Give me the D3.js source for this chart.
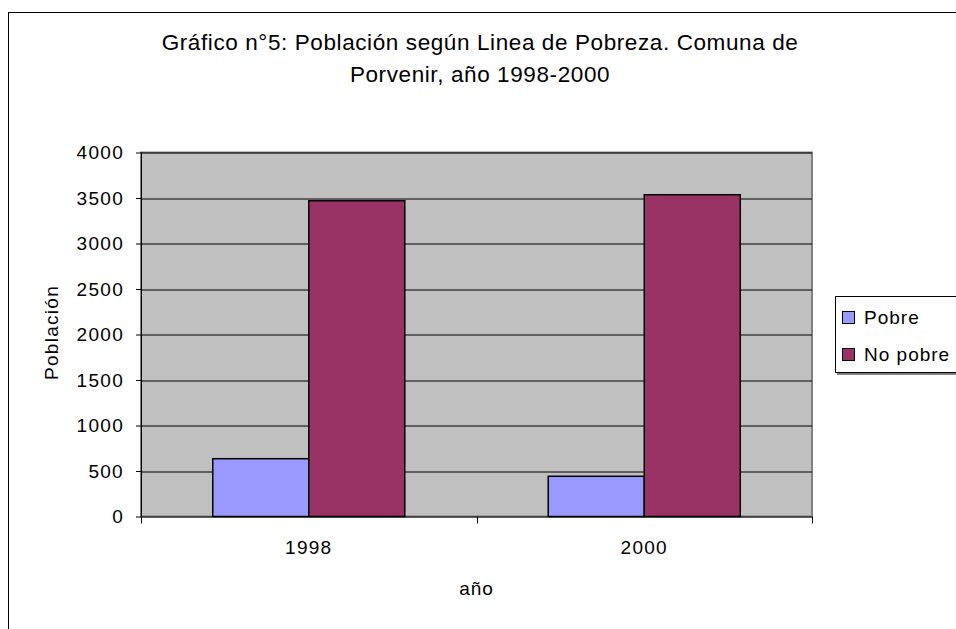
<!DOCTYPE html>
<html>
<head>
<meta charset="utf-8">
<script src="https://cdn.jsdelivr.net/npm/d3@7"></script>
<style>
	body { margin: 0; background: white; }
	text { font-family: "Liberation Sans", Arial, sans-serif; fill: black; }
</style>
</head>
<body>
<div id="chart"></div>
<script>
var years = ['1998', '2000'];
var series = ['Pobre', 'No pobre'];
var pobre = [635, 442];
var no_pobre = [3470, 3536];
var y_ticks = [0, 500, 1000, 1500, 2000, 2500, 3000, 3500, 4000];
var colors = ['#9999ff', '#993366'];

var margin = {top: 152.5, left: 141, right: 144, bottom: 112.5};
var width = 956 - margin.left - margin.right;
var height = 629 - margin.top - margin.bottom;

var svg = d3.select('#chart')
	.append('svg')
	.attr('width', 956)
	.attr('height', 629);

// outer frame
svg.append('rect')
	.attr('x', 8.5)
	.attr('y', 12.5)
	.attr('width', 980)
	.attr('height', 640)
	.style('fill', 'white')
	.style('stroke', 'black')
	.style('stroke-width', 1);

// title
svg.append('text')
	.attr('text-anchor', 'middle')
	.attr('x', 480)
	.attr('y', 50)
	.style('font-size', '22.5px')
	.style('letter-spacing', '0.6px')
	.text('Gráfico n°5: Población según Linea de Pobreza. Comuna de');
svg.append('text')
	.attr('text-anchor', 'middle')
	.attr('x', 480)
	.attr('y', 82)
	.style('font-size', '22.5px')
	.style('letter-spacing', '0.6px')
	.text('Porvenir, año 1998-2000');

var g = svg.append('g')
	.attr('transform', 'translate(' + margin.left + ',' + margin.top + ')');

var x = d3.scaleBand()
	.domain(years)
	.range([0, width]);

var x1 = d3.scaleBand()
	.domain(series)
	.range([0, x.bandwidth()])
	.paddingOuter(0.747);

var y = d3.scaleLinear()
	.domain([0, 4000])
	.range([height, 0]);

// plot area
g.append('rect')
	.attr('width', width)
	.attr('height', height)
	.style('fill', '#c0c0c0')
	.style('stroke', '#808080')
	.style('stroke-width', 2);

// grid
g.selectAll('.grid')
	.data(y_ticks.slice(1))
	.enter()
	.append('line')
		.attr('x1', 0)
		.attr('x2', width)
		.attr('y1', d => Math.round(y(d)) + 0.5)
		.attr('y2', d => Math.round(y(d)) + 0.5)
		.style('stroke', 'black')
		.style('stroke-width', 1);

// bars
var rows = years.map((yr, i) => ({year: yr, values: [pobre[i], no_pobre[i]]}));
g.selectAll('.grp')
	.data(rows)
	.enter()
	.append('g')
		.attr('transform', d => 'translate(' + x(d.year) + ',0)')
	.selectAll('rect')
	.data(d => d.values.map((v, j) => ({s: series[j], v: v})))
	.enter()
	.append('rect')
		.attr('x', d => x1(d.s))
		.attr('y', d => y(d.v))
		.attr('width', x1.bandwidth())
		.attr('height', d => height - y(d.v))
		.style('fill', (d, j) => colors[j])
		.style('stroke', 'black')
		.style('stroke-width', 1.5);

// y axis
var y_axis = g.append('g')
	.call(d3.axisLeft(y).tickValues(y_ticks).tickFormat(d3.format('d')).tickSize(5).tickPadding(12));
y_axis.select('.domain').attr('d', 'M0.5,0V' + height).style('stroke', 'black');
y_axis.selectAll('text')
	.attr('font-family', null)
	.style('font-size', '19px')
	.style('letter-spacing', '1.3px');

// x axis
var x_axis = g.append('g')
	.attr('transform', 'translate(0,' + height + ')');
x_axis.append('line')
	.attr('x1', 0)
	.attr('x2', width)
	.attr('y1', 0.5)
	.attr('y2', 0.5)
	.style('stroke', 'black');
x_axis.selectAll('.xtick')
	.data([0, 1, 2])
	.enter()
	.append('line')
		.attr('x1', d => Math.round(d * x.bandwidth()) + 0.5)
		.attr('x2', d => Math.round(d * x.bandwidth()) + 0.5)
		.attr('y1', 0)
		.attr('y2', 7)
		.style('stroke', 'black');
x_axis.selectAll('.xlab')
	.data(years)
	.enter()
	.append('text')
		.attr('text-anchor', 'middle')
		.attr('x', d => x(d) + x.bandwidth() / 2)
		.attr('y', 37.5)
		.style('font-size', '19px')
		.style('letter-spacing', '1.3px')
		.text(d => d);

// axis titles
svg.append('text')
	.attr('text-anchor', 'middle')
	.attr('transform', 'translate(58,' + (margin.top + height / 2 - 2) + ') rotate(-90)')
	.style('font-size', '19px')
	.style('letter-spacing', '1.3px')
	.text('Población');
svg.append('text')
	.attr('text-anchor', 'middle')
	.attr('x', margin.left + width / 2)
	.attr('y', 595)
	.style('font-size', '19px')
	.style('letter-spacing', '1px')
	.text('año');

// legend
var legend = svg.append('g').attr('transform', 'translate(835,296)');
legend.append('rect')
	.attr('x', 2)
	.attr('y', 2)
	.attr('width', 150)
	.attr('height', 77)
	.style('fill', '#808080');
legend.append('rect')
	.attr('x', 0.5)
	.attr('y', 0.5)
	.attr('width', 150)
	.attr('height', 76)
	.style('fill', 'white')
	.style('stroke', 'black');
series.forEach(function(s, i) {
	legend.append('rect')
		.attr('x', 7.5)
		.attr('y', 15.5 + i * 37)
		.attr('width', 12)
		.attr('height', 12)
		.style('fill', colors[i])
		.style('stroke', 'black');
	legend.append('text')
		.attr('x', 29)
		.attr('y', 28 + i * 37)
		.style('font-size', '19px')
		.style('letter-spacing', '1px')
		.text(s);
});
</script>
</body>
</html>
